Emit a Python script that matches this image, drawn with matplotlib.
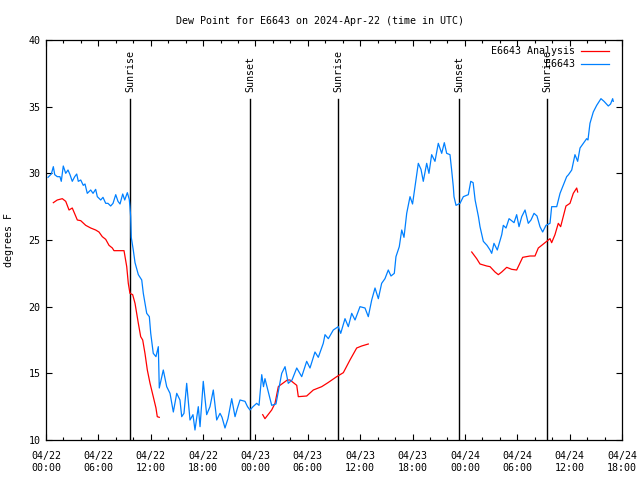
#!/usr/bin/env python3
"""Dew point for E6643, station obs vs analysis, 2024-Apr-22 (UTC)."""

import numpy as np
import matplotlib
matplotlib.use("Agg")
import matplotlib.pyplot as plt
from matplotlib.ticker import MultipleLocator

# hours since 04/22 00:00 UTC
obs_hours = [
    0.23, 0.61, 0.84, 1.0, 1.29, 1.6, 1.75, 1.98, 2.26, 2.52, 2.75, 3.01, 3.29, 3.52,
    3.7, 3.98, 4.27, 4.47, 4.73, 5.12, 5.39, 5.69, 5.88, 6.27, 6.53, 6.84, 7.1, 7.41,
    7.68, 7.99, 8.25, 8.48, 8.79, 9.02, 9.32, 9.54, 9.62, 9.7, 9.77, 10.0, 10.2, 10.58,
    10.97, 11.15, 11.54, 11.84, 12.0, 12.29, 12.6, 12.87, 12.98, 13.44, 13.83, 14.21,
    14.59, 14.98, 15.35, 15.55, 15.81, 16.12, 16.5, 16.84, 17.07, 17.45, 17.65, 18.02,
    18.41, 18.79, 19.17, 19.56, 19.94, 20.17, 20.51, 20.85, 21.28, 21.66, 21.94, 22.23,
    22.8, 23.09, 23.37, 23.72, 24.14, 24.41, 24.72, 24.92, 25.09, 25.47, 25.86, 26.35,
    27.01, 27.39, 27.76, 28.19, 28.73, 29.3, 29.87, 30.25, 30.82, 31.2, 31.77, 31.97,
    32.35, 32.92, 33.49, 33.77, 34.26, 34.64, 35.03, 35.41, 35.98, 36.55, 36.93, 37.32,
    37.7, 38.08, 38.46, 38.84, 39.22, 39.53, 39.91, 40.1, 40.48, 40.76, 41.02, 41.33,
    41.71, 42.0, 42.28, 42.66, 42.97, 43.23, 43.62, 43.88, 44.19, 44.57, 44.95, 45.34,
    45.64, 45.91, 46.29, 46.48, 46.67, 46.75, 46.98, 47.44, 47.82, 48.39, 48.67, 48.94,
    49.17, 49.55, 49.73, 50.11, 50.53, 50.88, 51.07, 51.33, 51.71, 52.22, 52.4, 52.71,
    53.06, 53.25, 53.63, 53.93, 54.2, 54.51, 54.89, 55.26, 55.57, 55.92, 56.26, 56.6,
    56.91, 57.29, 57.75, 57.94, 58.52, 58.9, 59.27, 59.66, 59.87, 60.24, 60.61, 60.92,
    61.19, 61.57, 61.95, 62.1, 62.33, 62.71, 63.1, 63.59, 63.94, 64.43, 64.69, 64.93,
    65.0,
]
obs_dewpoint = [
    29.7, 29.95, 30.5, 29.9, 29.75, 29.75, 29.4, 30.55, 30.0, 30.25, 29.9, 29.4, 29.75, 29.95,
    29.4, 29.5, 29.1, 29.2, 28.5, 28.75, 28.5, 28.8, 28.25, 28.0, 28.2, 27.75, 27.75, 27.55,
    27.75, 28.4, 27.9, 27.7, 28.45, 28.0, 28.55, 28.05, 27.5, 26.75, 25.2, 24.25, 23.3, 22.4,
    22.0, 21.0, 19.5, 19.25, 18.0, 16.5, 16.25, 17.0, 13.9, 15.25, 14.0, 13.5,
    12.1, 13.5, 13.0, 11.75, 12.0, 14.25, 11.5, 11.9, 10.75, 12.5, 11.0, 14.4,
    11.9, 12.5, 13.75, 11.5, 12.0, 11.7, 10.9, 11.6, 13.1, 11.75, 12.4, 13.0,
    12.9, 12.5, 12.25, 12.5, 12.75, 12.6, 14.9, 14.0, 14.6, 13.6, 12.6, 12.7,
    15.0, 15.5, 14.25, 14.5, 15.4, 14.75, 15.9, 15.4, 16.6, 16.2, 17.25, 17.9,
    17.6, 18.25, 18.5, 18.0, 19.1, 18.5, 19.5, 19.0, 20.0, 19.9, 19.25, 20.5,
    21.4, 20.6, 21.75, 22.1, 22.75, 22.3, 22.5, 23.75, 24.5, 25.75, 25.2, 27.0,
    28.25, 27.7, 29.0, 30.75, 30.3, 29.4, 30.75, 30.0, 31.4, 30.9, 32.25, 31.5,
    32.3, 31.5, 31.4, 30.25, 29.0, 28.25, 27.6, 27.75, 28.25, 28.4, 29.4, 29.3,
    28.0, 26.75, 26.0, 24.9, 24.6, 24.25, 24.0, 24.75, 24.25, 25.4, 26.1, 25.9,
    26.6, 26.5, 26.3, 26.9, 26.0, 26.75, 27.25, 26.25, 26.5, 27.0, 26.8, 26.0,
    25.6, 26.1, 26.25, 27.5, 27.5, 28.5, 29.1, 29.75, 29.9, 30.25, 31.4, 30.9,
    31.9, 32.25, 32.6, 32.5, 33.75, 34.6, 35.1, 35.6, 35.4, 35.05, 35.2, 35.6,
    35.4,
]

# analysis series, None marks a gap
ana_hours = [
    0.84, 1.29, 1.87, 2.26, 2.64, 3.01, 3.59, 3.98, 4.55, 5.12, 5.69, 6.07, 6.45, 6.84,
    7.22, 7.6, 7.79, 8.94, 9.25, 9.43, 9.62, 9.93, 10.2, 10.39, 10.58, 10.85, 11.08,
    11.34, 11.61, 11.92, 12.29, 12.6, 12.75, 12.98,
    13.5,
    24.83, 25.09, 25.86, 26.24, 26.62, 26.81, 27.65, 27.96, 28.73, 28.91, 29.87, 30.63,
    31.59, 32.31, 33.31, 34.07, 34.83, 35.6, 36.17, 36.93,
    37.5,
    48.78, 49.35, 49.73, 50.5, 50.88, 51.45, 51.83, 52.22, 52.79, 53.36, 53.93, 54.62,
    55.46, 56.03, 56.41, 56.8, 57.37, 57.75, 57.94, 58.32, 58.7, 58.97, 59.58, 60.04,
    60.42, 60.81, 60.92,
]
ana_dewpoint = [
    27.8, 28.0, 28.1, 27.9, 27.25, 27.4, 26.5, 26.45, 26.1, 25.9, 25.75, 25.6, 25.25, 25.05,
    24.6, 24.4, 24.2, 24.2, 23.0, 21.75, 21.0, 20.9, 20.25, 19.5, 18.75, 17.75, 17.5,
    16.5, 15.25, 14.25, 13.25, 12.4, 11.75, 11.7,
    None,
    11.9, 11.6, 12.25, 12.75, 14.0, 14.1, 14.5, 14.5, 14.1, 13.25, 13.3, 13.75,
    14.0, 14.3, 14.75, 15.05, 16.0, 16.9, 17.05, 17.2,
    None,
    24.1, 23.6, 23.2, 23.05, 23.0, 22.6, 22.4, 22.6, 22.95, 22.8, 22.75, 23.7,
    23.8, 23.8, 24.4, 24.6, 24.9, 25.1, 24.8, 25.4, 26.25, 26.0, 27.55, 27.75,
    28.5, 28.9, 28.6,
]

event_hours = [9.63, 23.37, 33.46, 47.32, 57.4]
event_names = ["Sunrise", "Sunset", "Sunrise", "Sunset", "Sunrise"]

xtick_hours = list(range(0, 67, 6))
xtick_labels = [
    "04/22\n00:00", "04/22\n06:00", "04/22\n12:00", "04/22\n18:00",
    "04/23\n00:00", "04/23\n06:00", "04/23\n12:00", "04/23\n18:00",
    "04/24\n00:00", "04/24\n06:00", "04/24\n12:00", "04/24\n18:00",
]

FONT = 7.2
plt.rcParams["font.family"] = ["DejaVu Sans Mono"]
plt.rcParams["font.size"] = FONT

fig = plt.figure(figsize=(6.4, 4.8), dpi=100)
ax = fig.add_axes([46 / 640, 40 / 480, 576 / 640, 400 / 480])

for h, name in zip(event_hours, event_names):
    ax.axvline(h, ymin=0, ymax=0.8525, color="black", lw=1.0, zorder=1)
    ax.text(h, 0.87, name, transform=ax.get_xaxis_transform(), rotation=90,
            ha="center", va="bottom", fontsize=FONT)

ana_y = np.array([np.nan if v is None else v for v in ana_dewpoint], dtype=float)
ax.plot(ana_hours, ana_y, color="#ff0000", lw=0.9, label="E6643 Analysis", zorder=2)
ax.plot(obs_hours, obs_dewpoint, color="#0080ff", lw=0.9, label="E6643", zorder=3)

ax.set_xlim(0, 66)
ax.set_ylim(10, 40)
ax.set_xticks(xtick_hours)
ax.set_xticklabels(xtick_labels)
ax.xaxis.set_minor_locator(MultipleLocator(2))
ax.set_yticks(range(10, 41, 5))
ax.tick_params(which="both", direction="in", top=True, right=True, width=0.8)
ax.tick_params(which="major", length=4, pad=4)
ax.tick_params(axis="x", which="major", pad=8)
ax.tick_params(which="minor", length=2.2)
for s in ax.spines.values():
    s.set_linewidth(0.9)

ax.set_ylabel("degrees F")
ax.yaxis.set_label_coords(-0.056, 0.5)

ax.legend(loc="upper right", frameon=False, markerfirst=False, handlelength=2.8,
          handletextpad=0.6, labelspacing=0.3, borderaxespad=0.25,
          bbox_to_anchor=(0.988, 1.0), fontsize=FONT)

fig.suptitle("Dew Point for E6643 on 2024-Apr-22 (time in UTC)", y=0.967, fontsize=FONT)

fig.savefig("out.png", dpi=100)
